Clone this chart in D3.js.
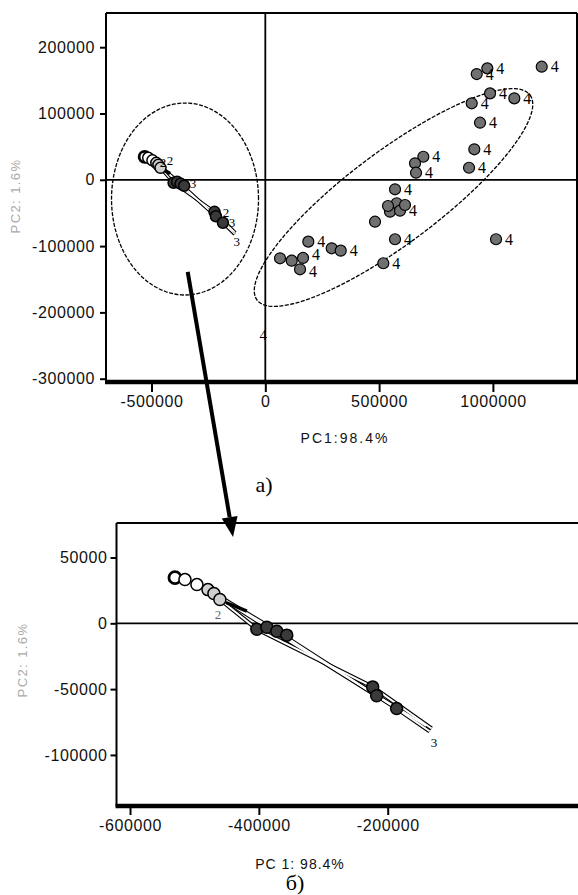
<!DOCTYPE html>
<html>
<head>
<meta charset="utf-8">
<script src="https://cdn.jsdelivr.net/npm/d3@7"></script>
<style>
  body { margin: 0; background: #fff; }
  svg { display: block; }
  .tick text { font-family: "Liberation Sans", Arial, sans-serif; font-size: 16px; letter-spacing: 0.6px; fill: #111; }
</style>
</head>
<body>
<svg id="chart" width="578" height="895"></svg>
<script>
// gruppo 4 (PC1, PC2) - grafico a)
const g4X = [928900, 975500, 1214500, 987400, 906900, 1094100, 943400, 918300, 895100, 694300,
             657800, 662200, 569900, 577400, 547900, 591900, 482000, 613800, 569900, 518500,
             1013700, 188900, 291800, 331300, 64600, 116000, 152500, 165700, 539100];
const g4Y = [159500, 168100, 170600, 130400, 115400, 122900, 86100, 46000, 18200, 34800,
             24900, 10700, -14300, -35400, -48100, -46600, -63200, -38000, -89700, -125900,
             -89700, -93300, -103300, -106900, -118400, -122000, -135000, -117900, -39500];
const g4Lab = [1, 1, 1, 1, 1, 1, 1, 1, 1, 1,
               0, 1, 1, 0, 0, 1, 0, 0, 1, 1,
               1, 1, 0, 1, 0, 0, 1, 1, 0];

// gruppi 1-3 (campioni a sinistra, ingranditi in б)
const cluX = [-530250, -514750, -496150, -479100, -469800, -460500,
              -403150, -387650, -372150, -356650, -223350, -217150, -186150];
const cluY = [34700, 33200, 29400, 25600, 22600, 18100,
              -4500, -3000, -6000, -9000, -48300, -55000, -64800];
const cluGroup = [1, 1, 1, 2, 2, 2, 3, 3, 3, 3, 3, 3, 3];

// traiettorie (linee bordate)
const trajX = [
  [-460500, -403150, -223350, -131900],
  [-469800, -387650, -217150, -140000],
  [-479100, -372150, -186150, -135000]
];
const trajY = [
  [18100, -4500, -48300, -79900],
  [22600, -3000, -55000, -78000],
  [25600, -6000, -64800, -82000]
];

// etichette sparse
const topLabText = ["2", "2", "3", "2", "3", "3", "4"];
const topLabX = [-449500, -418700, -317700, -172700, -146300, -125000, -8800];
const topLabY = [26800, 29900, -4800, -48600, -63600, -93000, -233700];
const botLabText = ["2", "3"];
const botLabX = [-463600, -128000];
const botLabY = [6800, -90000];

// ellissi di confidenza (centro + semiassi coniugati, unità dati)
const ell4 = { cx: 563300, cy: -26700, ax: 599800, ay: 154600, bx: 121300, by: -55500 };
const ellL = { cx: -352800, cy: -29000, ax: 323000, ay: 0, bx: 0, by: 144800 };

// tick
const topXTicks = [-500000, 0, 500000, 1000000];
const topYTicks = [200000, 100000, 0, -100000, -200000, -300000];
const botXTicks = [-600000, -400000, -200000];
const botYTicks = [50000, 0, -50000, -100000];

const groupFill = { 1: "#ffffff", 2: "#cfcfcf", 3: "#3a3a3a", 4: "#707070" };

const svg = d3.select("#chart");
const fmt = d => String(d); // trattino semplice, come nell'originale

function ellipsePoints(e) {
  return d3.range(0, 361, 3).map(t => {
    const a = t * Math.PI / 180;
    return [e.cx + Math.cos(a) * e.ax + Math.sin(a) * e.bx,
            e.cy + Math.cos(a) * e.ay + Math.sin(a) * e.by];
  });
}

function drawPanel(opt) {
  const { x, y, left, top, right, bottom } = opt;
  const g = svg.append("g");

  // assi con tick
  g.append("g")
    .attr("transform", `translate(0,${bottom})`)
    .call(d3.axisBottom(x).tickValues(opt.xTicks).tickSize(opt.xTickSize).tickPadding(opt.xPad).tickFormat(fmt))
    .call(a => a.select(".domain").remove())
    .call(a => a.selectAll("line").attr("stroke", "#000").attr("stroke-width", 2));

  g.append("g")
    .attr("transform", `translate(${left},0)`)
    .call(d3.axisLeft(y).tickValues(opt.yTicks).tickSize(6).tickPadding(opt.yPad).tickFormat(fmt))
    .call(a => a.select(".domain").remove())
    .call(a => a.selectAll("line").attr("stroke", "#000").attr("stroke-width", 2));

  // cornice
  g.append("line").attr("x1", left).attr("x2", right).attr("y1", top).attr("y2", top)
    .attr("stroke", "#000").attr("stroke-width", 2);
  g.append("line").attr("x1", left).attr("x2", left).attr("y1", top).attr("y2", bottom)
    .attr("stroke", "#000").attr("stroke-width", 2);
  if (opt.rightBorder) {
    g.append("line").attr("x1", right).attr("x2", right).attr("y1", top).attr("y2", bottom)
      .attr("stroke", "#000").attr("stroke-width", 2);
  }
  g.append("line").attr("x1", left - 1).attr("x2", right + 1).attr("y1", bottom).attr("y2", bottom)
    .attr("stroke", "#000").attr("stroke-width", 4.5);

  // linee dello zero
  g.append("line").attr("x1", left).attr("x2", right).attr("y1", y(0)).attr("y2", y(0))
    .attr("stroke", "#000").attr("stroke-width", 1.8);
  if (opt.xZero) {
    g.append("line").attr("x1", x(0)).attr("x2", x(0)).attr("y1", top).attr("y2", bottom)
      .attr("stroke", "#000").attr("stroke-width", 1.8);
  }

  // titoli degli assi
  g.append("text")
    .attr("x", opt.xTitleX).attr("y", opt.xTitleY)
    .attr("text-anchor", "middle")
    .style("font-family", "Liberation Sans, Arial, sans-serif")
    .style("font-size", "14px")
    .style("letter-spacing", opt.xTitleSpacing)
    .attr("fill", "#111")
    .text(opt.xTitle);

  g.append("text")
    .attr("transform", `translate(${opt.yTitleX},${opt.yTitleY}) rotate(-90)`)
    .attr("text-anchor", "middle")
    .style("font-family", "Liberation Sans, Arial, sans-serif")
    .style("font-size", "13px")
    .style("letter-spacing", "1.4px")
    .attr("fill", "#aaa")
    .text("PC2: 1.6%");

  return g;
}

function drawCluster(g, x, y, r, lw) {
  const line = d3.line().x(d => x(d[0])).y(d => y(d[1]));
  trajX.forEach((tx, i) => {
    const pts = tx.map((v, j) => [v, trajY[i][j]]);
    g.append("path").attr("d", line(pts)).attr("fill", "none")
      .attr("stroke", "#000").attr("stroke-width", lw + 2.2);
  });
  trajX.forEach((tx, i) => {
    const pts = tx.map((v, j) => [v, trajY[i][j]]);
    g.append("path").attr("d", line(pts)).attr("fill", "none")
      .attr("stroke", "#fff").attr("stroke-width", lw);
  });
  // tratto nero iniziale
  g.append("line")
    .attr("x1", x(-451200)).attr("y1", y(15800))
    .attr("x2", x(-418600)).attr("y2", y(9300))
    .attr("stroke", "#000").attr("stroke-width", 3.5);

  g.append("g").selectAll("circle")
    .data(cluX.map((v, i) => ({ x: v, y: cluY[i], g: cluGroup[i], i })))
    .enter().append("circle")
    .attr("cx", d => x(d.x)).attr("cy", d => y(d.y))
    .attr("r", r)
    .attr("fill", d => groupFill[d.g])
    .attr("stroke", "#000")
    .attr("stroke-width", d => d.i === 0 ? 2.8 : 1.5);
}

// ---------- grafico a) ----------
const xTop = d3.scaleLinear().domain([-700000, 1369500]).range([106, 577]);
const yTop = d3.scaleLinear().domain([-305000, 251600]).range([382, 13]);

const gTop = drawPanel({
  x: xTop, y: yTop, left: 106, top: 13, right: 577, bottom: 382,
  xTicks: topXTicks, yTicks: topYTicks, xTickSize: 10, xPad: 4, yPad: 5,
  rightBorder: true, xZero: true,
  xTitle: "PC1:98.4%", xTitleX: 345, xTitleY: 443, xTitleSpacing: "2px",
  yTitleX: 20, yTitleY: 196
});

const ellLine = d3.line().x(d => xTop(d[0])).y(d => yTop(d[1]));
[ellL, ell4].forEach(e => {
  gTop.append("path")
    .attr("d", ellLine(ellipsePoints(e)) + "Z")
    .attr("fill", "none")
    .attr("stroke", "#000")
    .attr("stroke-width", 1.3)
    .attr("stroke-dasharray", "4,1.5");
});

drawCluster(gTop, xTop, yTop, 5.5, 1.2);

gTop.append("g").selectAll("circle")
  .data(g4X.map((v, i) => ({ x: v, y: g4Y[i] })))
  .enter().append("circle")
  .attr("cx", d => xTop(d.x)).attr("cy", d => yTop(d.y))
  .attr("r", 5.5)
  .attr("fill", groupFill[4])
  .attr("stroke", "#000")
  .attr("stroke-width", 1.2);

// piccoli spostamenti verticali per le etichette che si accavallano
const g4LabDy = g4X.map((v, i) => i === 26 ? 8 : (i === 27 ? 2 : 5.5));

gTop.append("g").selectAll("text")
  .data(g4X.map((v, i) => ({ x: v, y: g4Y[i], show: g4Lab[i], dy: g4LabDy[i] })).filter(d => d.show))
  .enter().append("text")
  .attr("x", d => xTop(d.x) + 13).attr("y", d => yTop(d.y) + d.dy)
  .attr("text-anchor", "middle")
  .style("font-family", "Liberation Serif, Times New Roman, serif")
  .style("font-size", "16px")
  .text("4");

gTop.append("g").selectAll("text")
  .data(topLabText.map((t, i) => ({ t, x: topLabX[i], y: topLabY[i] })))
  .enter().append("text")
  .attr("x", d => xTop(d.x)).attr("y", d => yTop(d.y) + 5)
  .attr("text-anchor", "middle")
  .style("font-family", "Liberation Serif, Times New Roman, serif")
  .style("font-size", d => d.t === "4" ? "15px" : "13px")
  .text(d => d.t);

svg.append("text")
  .attr("x", 264).attr("y", 492)
  .attr("text-anchor", "middle")
  .style("font-family", "Liberation Serif, Times New Roman, serif")
  .style("font-size", "22px")
  .text("a)");

// ---------- grafico б) ----------
const xBot = d3.scaleLinear().domain([-621000, 95400]).range([116.5, 578]);
const yBot = d3.scaleLinear().domain([-138800, 76200]).range([806, 523]);

const gBot = drawPanel({
  x: xBot, y: yBot, left: 116.5, top: 523, right: 578, bottom: 806,
  xTicks: botXTicks, yTicks: botYTicks, xTickSize: 9, xPad: 5, yPad: 3,
  rightBorder: false, xZero: false,
  xTitle: "PC 1: 98.4%", xTitleX: 300, xTitleY: 869, xTitleSpacing: "1px",
  yTitleX: 27, yTitleY: 660
});

drawCluster(gBot, xBot, yBot, 6, 2);

gBot.append("g").selectAll("text")
  .data(botLabText.map((t, i) => ({ t, x: botLabX[i], y: botLabY[i] })))
  .enter().append("text")
  .attr("x", d => xBot(d.x)).attr("y", d => yBot(d.y) + 5)
  .attr("text-anchor", "middle")
  .style("font-family", "Liberation Serif, Times New Roman, serif")
  .style("font-size", "13px")
  .attr("fill", d => d.t === "2" ? "#666" : "#000")
  .text(d => d.t);

svg.append("text")
  .attr("x", 295).attr("y", 890)
  .attr("text-anchor", "middle")
  .style("font-family", "Liberation Serif, Times New Roman, serif")
  .style("font-size", "22px")
  .text("б)");

// ---------- freccia da a) a б) ----------
const p0 = [xTop(-341000), yTop(-139000)];
const p1 = [xBot(-440100), yBot(65600)];
const ang = Math.atan2(p1[1] - p0[1], p1[0] - p0[0]);
const headLen = 20, headW = 8;
const base = [p1[0] - headLen * Math.cos(ang), p1[1] - headLen * Math.sin(ang)];

svg.append("line")
  .attr("x1", p0[0]).attr("y1", p0[1])
  .attr("x2", base[0]).attr("y2", base[1])
  .attr("stroke", "#000").attr("stroke-width", 4);

svg.append("path")
  .attr("d", d3.line()([
    p1,
    [base[0] + headW * Math.sin(ang), base[1] - headW * Math.cos(ang)],
    [base[0] - headW * Math.sin(ang), base[1] + headW * Math.cos(ang)]
  ]) + "Z")
  .attr("fill", "#000");
</script>
</body>
</html>
